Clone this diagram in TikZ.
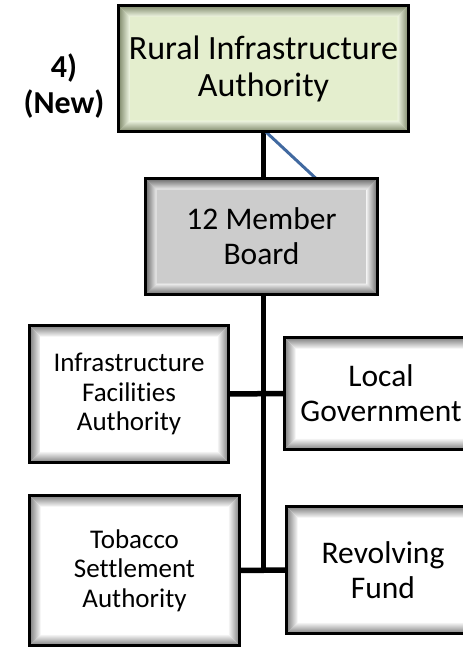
\documentclass[tikz,border=0pt]{standalone}
\usepackage{fontspec}
\setmainfont{Carlito}[Ligatures={NoCommon}]
\usetikzlibrary{backgrounds,calc}
\definecolor{gface}{RGB}{228,238,206}
\definecolor{gdark}{RGB}{125,135,105}
\definecolor{glight}{RGB}{238,245,225}
\definecolor{bface}{RGB}{204,204,204}
\definecolor{bdark}{RGB}{105,105,105}
\definecolor{blight}{RGB}{238,238,238}
\definecolor{wface}{RGB}{255,255,255}
\definecolor{wdark}{RGB}{125,125,125}
\definecolor{wlight}{RGB}{248,248,248}
\definecolor{blueln}{RGB}{65,105,160}
\tikzset{
  bevelbox/.style n args={3}{
    rectangle, inner sep=0pt, outer sep=0pt, align=center, text=black,
    fill=#1,
    path picture={
      \coordinate (bsw) at (path picture bounding box.south west);
      \coordinate (bne) at (path picture bounding box.north east);
      \coordinate (bnw) at (bsw |- bne);
      \coordinate (bse) at (bne |- bsw);
      \shade[top color=#2, bottom color=#3] (bnw) -- (bne) -- ([shift={(-11pt,-11pt)}]bne) -- ([shift={(11pt,-11pt)}]bnw) -- cycle;
      \shade[top color=#3, bottom color=#2] (bsw) -- (bse) -- ([shift={(-11pt,11pt)}]bse) -- ([shift={(11pt,11pt)}]bsw) -- cycle;
      \shade[left color=#2, right color=#3] (bsw) -- (bnw) -- ([shift={(11pt,-11pt)}]bnw) -- ([shift={(11pt,11pt)}]bsw) -- cycle;
      \shade[left color=#3, right color=#2] (bse) -- (bne) -- ([shift={(-11pt,-11pt)}]bne) -- ([shift={(-11pt,11pt)}]bse) -- cycle;
    },
    postaction={draw=black, line width=3pt}
  },
  greenbox/.style={bevelbox={gface}{gdark}{glight}},
  graybox/.style={bevelbox={bface}{bdark}{blight}},
  whitebox/.style={bevelbox={wface}{wdark}{wlight}},
  toptext/.style={font=\fontsize{34}{37}\selectfont},
  bigtext/.style={font=\fontsize{31.5}{35}\selectfont},
  smalltext/.style={font=\fontsize{27}{29.5}\selectfont},
  conn/.style={line width=5.5pt, black},
  blueline/.style={line width=3pt, blueln},
  lbl/.style={align=center, font=\bfseries\fontsize{32}{36}\selectfont}
}
\begin{document}
\begin{tikzpicture}[x=1pt, y=-1pt]
\useasboundingbox (0,0) rectangle (463,649);
\node[greenbox, toptext, minimum width=290pt, minimum height=126pt] (top) at (263.5,68.5) {Rural Infrastructure\\Authority};
\node[graybox, bigtext, minimum width=232pt, minimum height=116pt] (board) at (261.5,236.5) {12 Member\\Board};
\node[whitebox, smalltext, minimum width=199pt, minimum height=137pt] (ifa) at (129,394) {Infrastructure\\Facilities\\Authority};
\node[whitebox, minimum width=193pt, minimum height=112pt] (lg) at (381,393.5) {};
\node[bigtext, align=center] (lgt) at (lg) {Local\\Government};
\node[whitebox, smalltext, minimum width=210pt, minimum height=150pt] (tsa) at (134.5,570.5) {Tobacco\\Settlement\\Authority};
\node[whitebox, bigtext, minimum width=193pt, minimum height=127pt] (rf) at (383,570) {Revolving\\Fund};
\node[lbl] (new) at (64,86) {4)\\(New)};
\begin{pgfonlayer}{background}
\draw[conn] (top.south) -- (top.south |- tsa.east);
\draw[conn] (ifa.east) -- (lg.west);
\draw[conn] (tsa.east) -- (rf.west);
\draw[blueline] ([xshift=2pt]top.south) -- ([xshift=54.5pt]board.north);
\end{pgfonlayer}
\end{tikzpicture}
\end{document}
